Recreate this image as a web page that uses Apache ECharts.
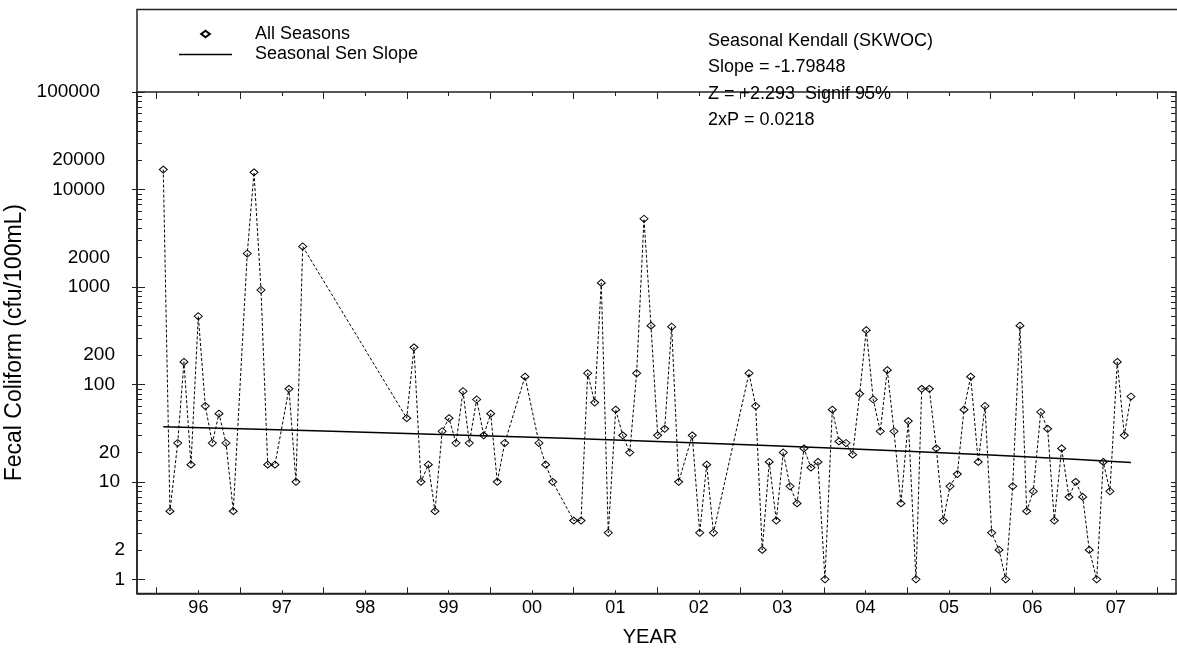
<!DOCTYPE html>
<html><head><meta charset="utf-8">
<script src="https://cdn.jsdelivr.net/npm/echarts@6/dist/echarts.min.js"></script>
<style>html,body{margin:0;padding:0;background:#fff}#c{width:1177px;height:652px}</style>
</head><body><div id="c"></div>
<script>
// sample dates (decimal year) and fecal coliform values (cfu/100mL)
const sampleYears = [
 1996.079,1996.159,1996.252,1996.327,1996.411,1996.499,1996.583,1996.667,1996.747,1996.831,1996.918,
 1997.086,1997.167,1997.251,1997.331,1997.418,1997.586,1997.670,1997.751,
 1998.998,1999.085,1999.169,1999.257,1999.337,1999.423,1999.505,1999.589,1999.673,1999.748,1999.837,1999.921,
 2000.005,2000.084,2000.173,2000.416,2000.584,2000.664,2000.748,
 2001.000,2001.088,2001.168,2001.252,2001.331,2001.415,2001.504,2001.588,2001.672,2001.755,2001.843,2001.927,
 2002.007,2002.091,2002.175,2002.259,2002.422,2002.511,2002.595,2002.676,
 2003.102,2003.182,2003.261,2003.345,2003.429,2003.513,2003.594,2003.678,2003.761,2003.845,2003.929,
 2004.013,2004.101,2004.181,2004.265,2004.345,2004.429,2004.508,2004.592,2004.676,2004.760,2004.841,2004.924,
 2005.012,2005.104,2005.173,2005.264,2005.348,2005.432,2005.512,2005.600,2005.680,2005.760,2005.851,2005.932,
 2006.012,2006.100,2006.180,2006.264,2006.351,2006.432,2006.511,2006.600,2006.683,2006.763,2006.851,2006.939,
 2007.019,2007.103,2007.182,2007.271,2007.350,2007.430,2007.518,2007.602,2007.682
];
const fecalValues = [
 16000,5,25,170,15,500,60,25,50,25,5,
 2200,15000,930,15,15,90,10,2600,
 45,240,10,15,5,33,45,25,85,25,70,30,
 50,10,25,120,25,15,10,
 4,4,130,65,1100,3,55,30,20,130,5000,400,
 30,35,390,10,30,3,15,3,
 130,60,2,16,4,20,9,6,22,14,16,
 1,55,26,25,19,80,360,70,33,140,33,6,
 42,1,90,90,22,4,9,12,55,120,16,60,
 3,2,1,9,400,5,8,52,35,4,22,7,
 10,7,2,1,16,8,170,30,75
];
// Seasonal Sen slope line, values read along the drawn trend
const trendYears  = [1996.079,1997,1998,1999,2000,2001,2002,2003,2004,2005,2006,2007,2007.682];
const trendValues = [36.7,35.0,33.2,31.4,29.6,27.8,26.0,24.2,22.4,20.6,18.8,17.0,15.8];
// tick labels
const yLabelValues = [1,2,10,20,100,200,1000,2000,10000,20000,100000];
const yearLabels = ['96','97','98','99','00','01','02','03','04','05','06','07'];
const statLines = ['Seasonal Kendall (SKWOC)','Slope = -1.79848','Z = +2.293  Signif 95%','2xP = 0.0218'];

const FONT = "'Liberation Sans', Arial, Helvetica, sans-serif";
const AX = '#222';
const xMin = 1995.764, xMax = 2008.222;
const yMin = 0.718, yMax = 100000;

const yearTicks = [];
for (let y = 1996; y <= 2008; y++) yearTicks.push(y);
const midTicks = yearLabels.map((l, i) => 1996.5 + i);
const minorVals = [];
for (let k = 0; k < 5; k++) for (let m = 1; m <= 9; m++) minorVals.push(m * Math.pow(10, k));
minorVals.push(100000);
const decadeVals = [1,10,100,1000,10000,100000];

const points = sampleYears.map((t, i) => [t, fecalValues[i]]);
const trend = trendYears.map((t, i) => [t, trendValues[i]]);

// rich styles: longer labels sit a little further left, as in the original
const yRich = {};
for (let n = 1; n <= 6; n++) yRich['w' + n] = {fontSize: 19, fontFamily: FONT, color: '#000', padding: [0, (n - 1) * 5, 0, 0]};

function xAx(opts) {
  return Object.assign({
    type: 'value', min: xMin, max: xMax, splitLine: {show: false},
    axisLine: {show: false}, axisLabel: {show: false}, axisTick: {show: false}
  }, opts);
}
function yAx(opts) {
  return Object.assign({
    type: 'log', logBase: 10, min: yMin, max: yMax, splitLine: {show: false},
    axisLine: {show: false}, axisLabel: {show: false}, axisTick: {show: false}
  }, opts);
}

const chart = echarts.init(document.getElementById('c'), null, {renderer: 'canvas'});
chart.setOption({
  animation: false,
  backgroundColor: '#fff',
  textStyle: {fontFamily: FONT},
  grid: {left: 137, right: 1, top: 92, bottom: 58.7, containLabel: false, outerBoundsMode: 'none'},
  legend: {
    orient: 'vertical', left: 178, top: 25, padding: 0, itemWidth: 71, itemHeight: 8, itemGap: 2.5,
    textStyle: {fontSize: 18, color: '#000', fontFamily: FONT},
    data: [
      {name: 'All Seasons', icon: 'path://M0,0L0,0M71,8L71,8M26.5,0.8L30.8,4L26.5,7.2L22.2,4Z'},
      {name: 'Seasonal Sen Slope', icon: 'path://M0,0L0,0M71,8L71,8M0,3.3L53,3.3L53,4.7L0,4.7Z'}
    ]
  },
  xAxis: [
    xAx({position: 'bottom',
      axisLine: {show: true, onZero: false, lineStyle: {color: AX, width: 1.5}},
      axisTick: {show: true, inside: true, length: 6, customValues: yearTicks, lineStyle: {color: AX}},
      axisLabel: {show: true, customValues: midTicks, margin: 6, fontSize: 18, color: '#000', fontFamily: FONT,
        formatter: v => yearLabels[Math.floor(v) - 1996]}
    }),
    xAx({position: 'bottom', axisTick: {show: true, inside: true, length: 3, customValues: midTicks, lineStyle: {color: AX}}}),
    xAx({position: 'top',
      axisLine: {show: true, onZero: false, lineStyle: {color: AX, width: 1.5}},
      axisTick: {show: true, inside: true, length: 7, customValues: yearTicks, lineStyle: {color: AX}}
    }),
    xAx({position: 'top', axisTick: {show: true, inside: true, length: 4, customValues: midTicks, lineStyle: {color: AX}}})
  ],
  yAxis: [
    yAx({position: 'left',
      name: 'Fecal Coliform (cfu/100mL)', nameLocation: 'middle', nameGap: 106, nameRotate: 90,
      nameTextStyle: {fontSize: 23, color: '#000', fontFamily: FONT},
      axisLine: {show: true, onZero: false, lineStyle: {color: AX, width: 1.5}},
      axisTick: {show: true, inside: true, length: 5, customValues: minorVals, lineStyle: {color: AX}},
      axisLabel: {show: true, customValues: yLabelValues, margin: 12, fontSize: 19, color: '#000', fontFamily: FONT,
        rich: yRich,
        formatter: v => { const s = String(Math.round(v)); return '{w' + s.length + '|' + s + '}'; }}
    }),
    yAx({position: 'left', axisTick: {show: true, inside: true, length: 8, customValues: decadeVals, lineStyle: {color: AX}}}),
    yAx({position: 'left', axisTick: {show: true, inside: false, length: 5, customValues: decadeVals, lineStyle: {color: AX}}}),
    yAx({position: 'right',
      axisLine: {show: true, onZero: false, lineStyle: {color: AX, width: 1.5}},
      axisTick: {show: true, inside: true, length: 5, customValues: minorVals, lineStyle: {color: AX}}
    })
  ],
  graphic: [
    {type: 'rect', silent: true, z: -1,
      shape: {x: 137, y: 9.5, width: 1060, height: 584},
      style: {fill: 'none', stroke: AX, lineWidth: 1.5}},
    {type: 'text', silent: true, x: 650, y: 637,
      style: {text: 'YEAR', fontSize: 20, fontFamily: FONT, fill: '#000', align: 'center', verticalAlign: 'middle'}}
  ].concat(statLines.map((s, i) => ({
      type: 'text', silent: true, z: 10, x: 708, y: 41 + i * 26.5,
      style: {text: s, fontSize: 18, fontFamily: FONT, fill: '#000', align: 'left', verticalAlign: 'middle'}
  }))),
  series: [
    {
      name: 'All Seasons', type: 'line', xAxisIndex: 0, yAxisIndex: 0, data: points,
      symbol: 'diamond', symbolSize: [8, 7], showAllSymbol: true,
      lineStyle: {color: '#000', width: 1, type: [3, 2]},
      itemStyle: {color: 'rgba(255,255,255,0)', borderColor: '#000', borderWidth: 1},
      z: 3
    },
    {
      name: 'Seasonal Sen Slope', type: 'line', xAxisIndex: 0, yAxisIndex: 0, data: trend,
      symbol: 'none', smooth: false,
      lineStyle: {color: '#000', width: 1.5, type: 'solid'},
      itemStyle: {color: '#000'},
      z: 2
    }
  ]
});
</script>
</body></html>
